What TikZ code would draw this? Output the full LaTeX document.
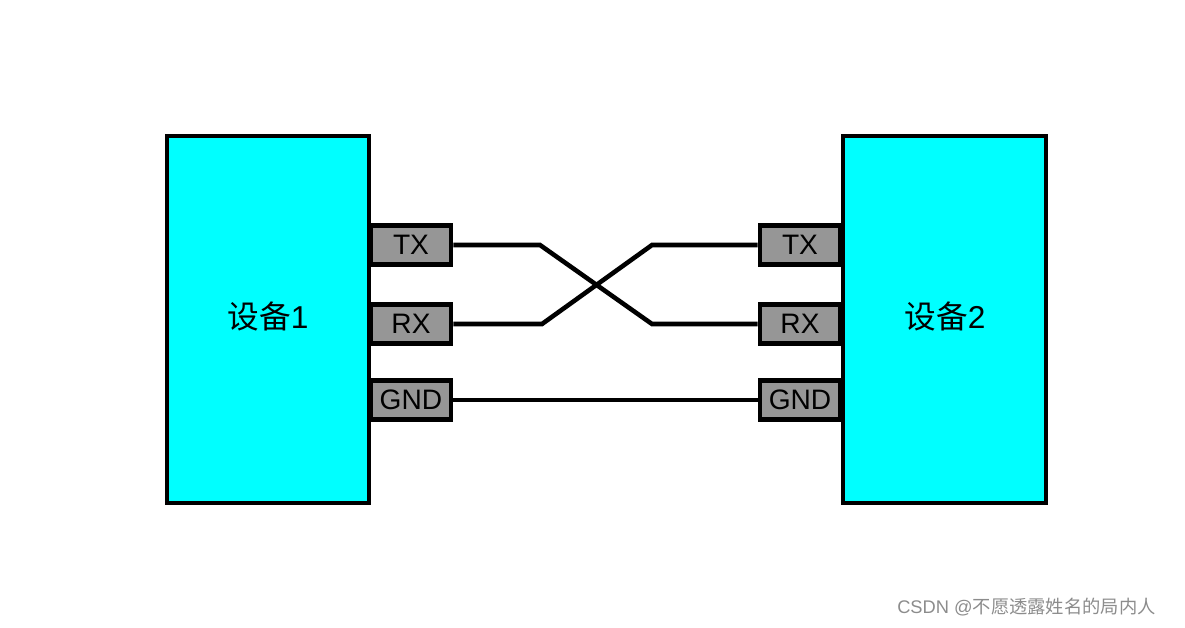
\documentclass[tikz,border=0pt]{standalone}
\usepackage{fontspec}
\setmainfont{Liberation Sans}
\newfontfamily\cjk{Noto Sans CJK SC}
\definecolor{devcyan}{RGB}{0,255,255}
\definecolor{portgray}{RGB}{150,150,150}
\begin{document}
\begin{tikzpicture}[x=0.01cm,y=-0.01cm,
 dev/.style={draw=black,fill=devcyan,line width=1.4pt},
 port/.style={draw=black,fill=portgray,line width=1.4pt,minimum width=0.80cm,minimum height=0.39cm,inner sep=0pt,font=\fontsize{8}{9}\selectfont},
 wire/.style={line width=1.3pt}]
\useasboundingbox (0,0) rectangle (1185,627);
\draw[dev] (167,136) rectangle (369,503);
\draw[dev] (843,136) rectangle (1046,503);
\node at (268,316) {\cjk\fontsize{9}{10}\selectfont 设备\fontspec{Liberation Sans}1};
\node at (945,316) {\cjk\fontsize{9}{10}\selectfont 设备\fontspec{Liberation Sans}2};
\node[port] (tx1) at (411,245) {TX};
\node[port] (rx1) at (411,324) {RX};
\node[port] (g1) at (411,400) {GND};
\node[port] (tx2) at (800,245) {TX};
\node[port] (rx2) at (800,324) {RX};
\node[port] (g2) at (800,400) {GND};
\draw[wire] (tx1.east) -- (540,245) -- (652,324) -- (rx2.west);
\draw[wire] (rx1.east) -- (542,324) -- (652,245) -- (tx2.west);
\draw[wire] (g1) -- (g2);
\node[text=black!45,anchor=east,font=\fontsize{5.2}{6}\selectfont] at (1168,607) {CSDN @{\cjk 不愿透露姓名的局内人}};
\end{tikzpicture}
\end{document}
